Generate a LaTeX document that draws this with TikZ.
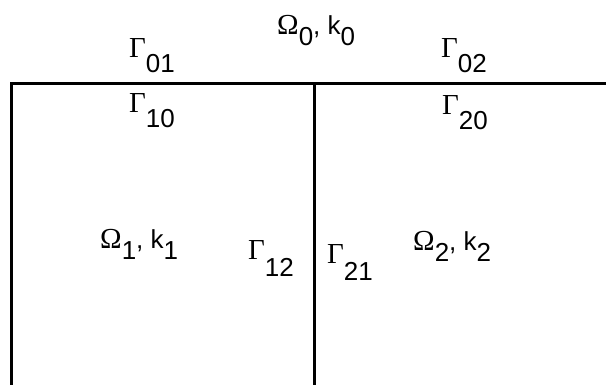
\documentclass[tikz,border=0pt]{standalone}
\usepackage{fontspec}
\setmainfont{Liberation Sans}
\newfontfamily\grkfont{Liberation Serif}
% boundary and subdomain labels
\newcommand{\bnd}[2][15pt]{{\grkfont\fontsize{29pt}{32pt}\selectfont Γ}\raisebox{-#1}{#2}}
\newcommand{\reg}[2][11pt]{{\grkfont\fontsize{29pt}{32pt}\selectfont Ω}\raisebox{-#1}{#2}, k\raisebox{-#1}{#2}}
\tikzset{lbl/.style={anchor=base west,inner sep=0pt,font=\fontsize{26pt}{32pt}\selectfont}}
\begin{document}
\begin{tikzpicture}[x=1pt,y=-1pt]
  \useasboundingbox (0,0) rectangle (606,385);
  % corners of the subdomains
  \coordinate (tl) at (11,84);
  \coordinate (tm) at (314,84);
  \coordinate (tr) at (606,84);
  \coordinate (bl) at (11,385);
  \coordinate (bm) at (314,385);
  \draw[line width=3pt] (bl) -- (tl) -- (tr);
  \draw[line width=3pt] (tm) -- (bm);
  % labels
  \node[lbl] (o0) at (277,35) {\reg{0}};
  \node[lbl] (g01) at (129,58) {\bnd{01}};
  \node[lbl] (g02) at (441,58) {\bnd{02}};
  \node[lbl] (g10) at (129,113) {\bnd{10}};
  \node[lbl] (g20) at (442,115) {\bnd{20}};
  \node[lbl] (o1) at (100,249) {\reg{1}};
  \node[lbl] (g12) at (248,260) {\bnd[17pt]{12}};
  \node[lbl] (g21) at (327,264) {\bnd[17pt]{21}};
  \node[lbl] (o2) at (413,251) {\reg{2}};
\end{tikzpicture}
\end{document}
